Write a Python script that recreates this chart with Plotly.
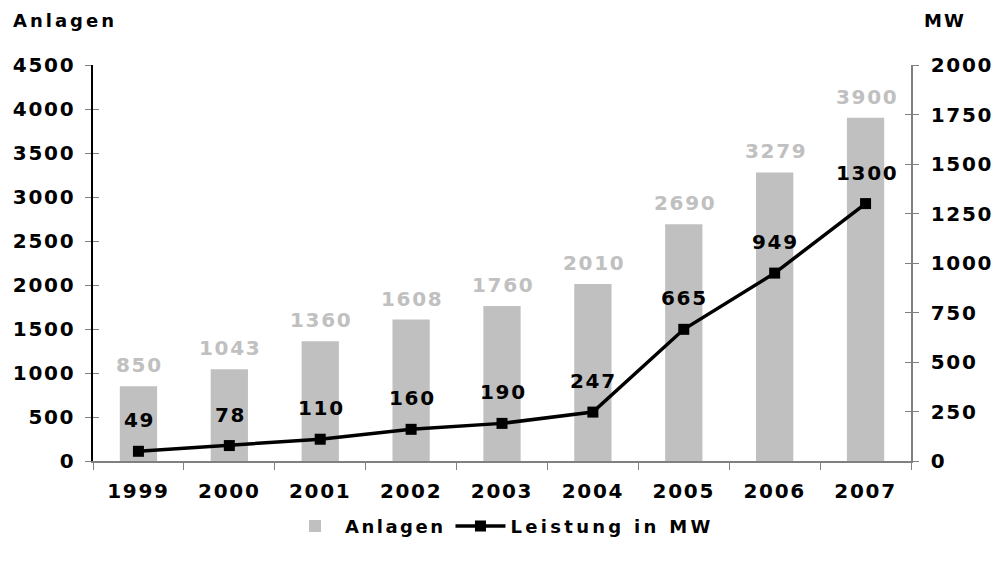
import plotly.graph_objects as go

years = ["1999", "2000", "2001", "2002", "2003", "2004", "2005", "2006", "2007"]
anlagen = [850, 1043, 1360, 1608, 1760, 2010, 2690, 3279, 3900]
leistung = [49, 78, 110, 160, 190, 247, 665, 949, 1300]
left_ticks = [0, 500, 1000, 1500, 2000, 2500, 3000, 3500, 4000, 4500]
right_ticks = [0, 250, 500, 750, 1000, 1250, 1500, 1750, 2000]

FONT = "DejaVu Sans"
BAR_COLOR = "#C0C0C0"


def sp(s, px=2):
    return f"<span style='letter-spacing:{px}px'>{s}</span>"


fig = go.Figure()
fig.add_trace(go.Bar(
    x=years, y=anlagen, name=sp("Anlagen", 2.5), marker=dict(color=BAR_COLOR, line=dict(width=0)),
    yaxis="y", hoverinfo="x+y",
))
fig.add_trace(go.Scatter(
    x=years, y=leistung, name=sp("Leistung in MW", 3.3), mode="lines+markers",
    line=dict(color="black", width=3.5),
    marker=dict(symbol="square", size=11, color="black"),
    yaxis="y2",
))

annotations = []
for i, v in enumerate(anlagen):
    annotations.append(dict(x=i, y=v, xref="x", yref="y", text=sp(v, 1.7), showarrow=False,
                            yshift=21, xshift=1,
                            font=dict(family=FONT, size=20, color=BAR_COLOR, weight="bold")))
for i, v in enumerate(leistung):
    annotations.append(dict(x=i, y=v, xref="x", yref="y2", text=sp(v, 1.7), showarrow=False,
                            yshift=31, xshift=1,
                            font=dict(family=FONT, size=20, color="black", weight="bold")))
annotations.append(dict(x=0, y=1, xref="paper", yref="paper", xanchor="left", yanchor="middle",
                        text=sp("Anlagen", 3), showarrow=False, xshift=-82, yshift=45,
                        font=dict(family=FONT, size=18, color="black", weight="bold")))
annotations.append(dict(x=1, y=1, xref="paper", yref="paper", xanchor="right", yanchor="middle",
                        text=sp("MW", 2), showarrow=False, xshift=57, yshift=45,
                        font=dict(family=FONT, size=18, color="black", weight="bold")))

tickfont = dict(family=FONT, size=20, color="black", weight="bold")

fig.update_layout(
    width=994, height=564,
    margin=dict(l=93, r=83, t=65, b=103, autoexpand=False),
    paper_bgcolor="white", plot_bgcolor="white",
    bargap=0.59,
    showlegend=True,
    legend=dict(orientation="h", x=0.5, xanchor="center", y=-0.165, yanchor="middle",
                font=dict(family=FONT, size=18, color="black", weight="bold"),
                itemwidth=50, tracegroupgap=0),
    xaxis=dict(type="category", range=[-0.5, 8.5], showgrid=False, showline=True,
               linecolor="#808080", linewidth=1.5, ticks="outside", ticklen=7, tickcolor="#808080",
               tickson="boundaries", tickfont=tickfont, ticklabelstandoff=11, automargin=False,
               tickvals=years, ticktext=[sp(y, 1.7) for y in years]),
    yaxis=dict(range=[0, 4500], tickvals=left_ticks, ticktext=[sp(t, 1.7) for t in left_ticks],
               showgrid=False, showline=True, automargin=False,
               linecolor="black", linewidth=1.5, ticks="outside", ticklen=6, tickcolor="#808080",
               tickfont=tickfont, ticklabelstandoff=6, zeroline=False),
    yaxis2=dict(range=[0, 2000], tickvals=right_ticks, ticktext=[sp(t, 1.7) for t in right_ticks],
                overlaying="y", side="right", automargin=False,
                showgrid=False, showline=True, linecolor="#808080", linewidth=1.5,
                ticks="outside", ticklen=6, tickcolor="#808080",
                tickfont=tickfont, ticklabelstandoff=8, zeroline=False),
    yaxis3=dict(range=[0, 4500], tickvals=left_ticks, overlaying="y", side="left",
                showgrid=False, showline=False, ticks="inside", ticklen=6, tickcolor="#808080",
                showticklabels=False, zeroline=False, automargin=False),
    yaxis4=dict(range=[0, 2000], tickvals=right_ticks, overlaying="y", side="right",
                showgrid=False, showline=False, ticks="inside", ticklen=6, tickcolor="#808080",
                showticklabels=False, zeroline=False, automargin=False),
    annotations=annotations,
)
# invisible helper traces so the inside-tick axes are rendered
fig.add_trace(go.Scatter(x=[years[0]], y=[0], yaxis="y3", mode="markers",
                         marker=dict(opacity=0), showlegend=False, hoverinfo="skip"))
fig.add_trace(go.Scatter(x=[years[0]], y=[0], yaxis="y4", mode="markers",
                         marker=dict(opacity=0), showlegend=False, hoverinfo="skip"))

fig.write_html("out.html")
